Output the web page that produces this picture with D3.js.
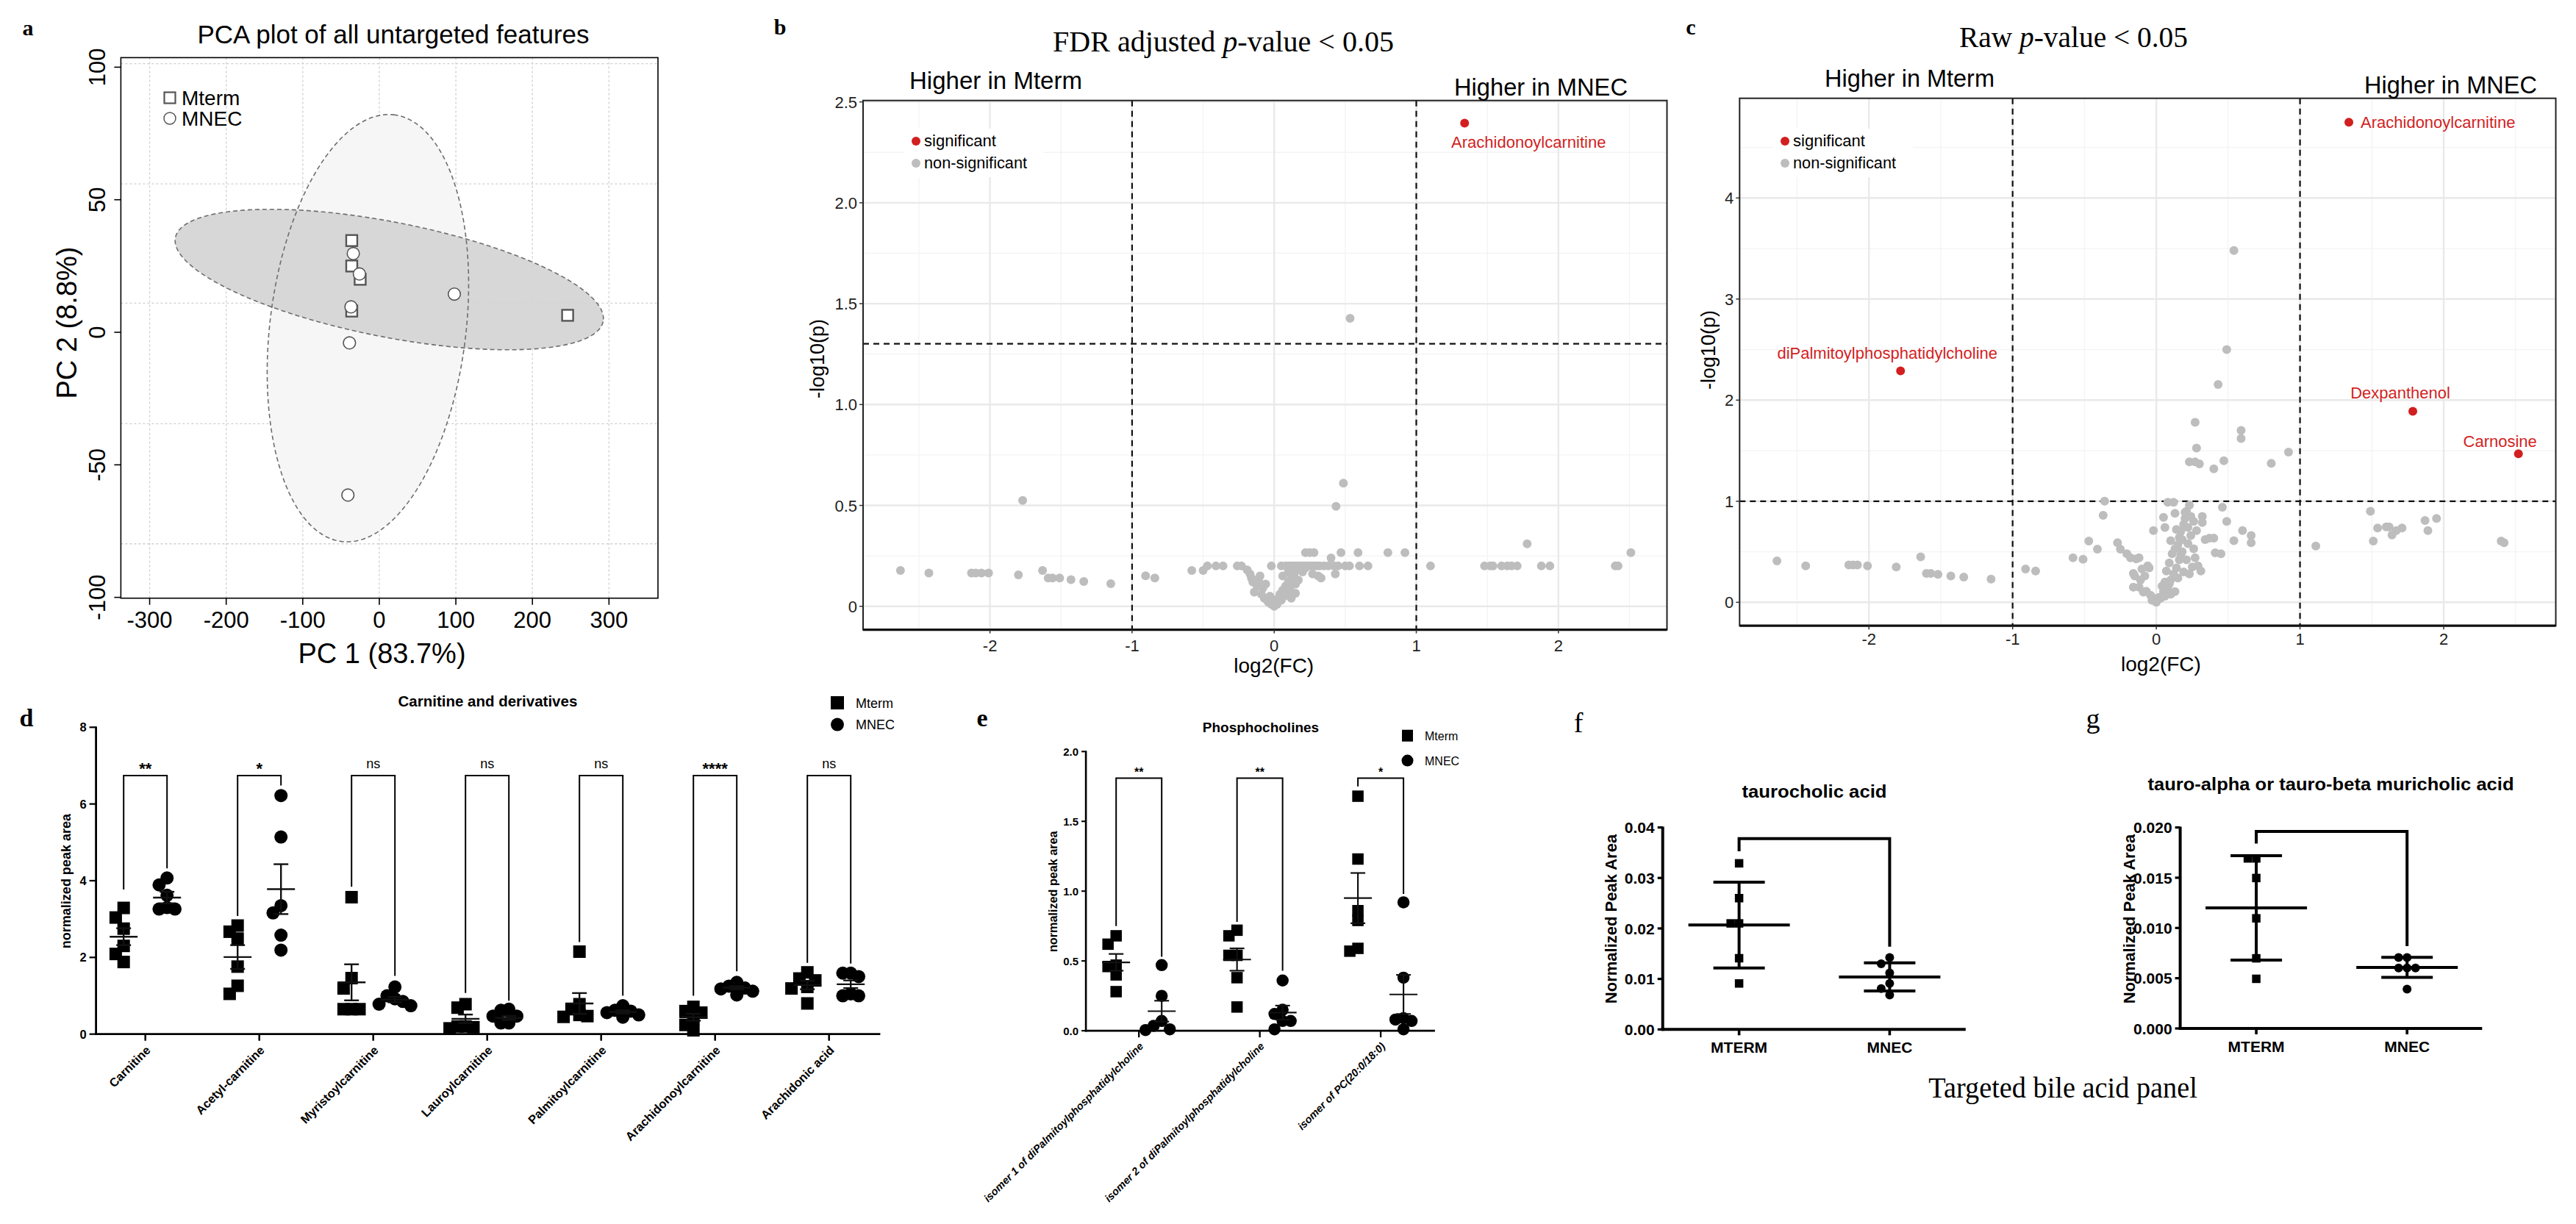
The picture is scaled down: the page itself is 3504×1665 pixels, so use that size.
<!DOCTYPE html>
<html><head><meta charset="utf-8">
<script src="https://cdn.jsdelivr.net/npm/d3@7/dist/d3.min.js"></script>
<style>html,body{margin:0;padding:0;background:#fff}svg{display:block}</style>
</head><body>
<svg id="fig" width="3504" height="1665" xmlns="http://www.w3.org/2000/svg"></svg>
<script>
// ================= DATA =================
// Panel a: PCA
const pcaMterm = [[-36,34.6],[-36,25],[-25,20],[-36,8],[246,6.4]];
const pcaMNEC  = [[-34,29.7],[-26,22],[-37,9.6],[98,14.4],[-39,-4],[-41,-61.4]];
// ellipse: centre x, centre y, semi-diameter u (x,y), semi-diameter v (x,y) in data units
const pcaEllMterm = [13,19.9,279.3,-15.9,-15.6,-21.2];
const pcaEllMNEC  = [-14.9,1.55,33.7,80.5,127.2,-4.15];
const pcaXTicks = [-300,-200,-100,0,100,200,300];
const pcaYTicks = [-100,-50,0,50,100];
const pcaGridY  = [101.3,56,11,-34.5,-79.8];

// Panel b: volcano, FDR adjusted
const fdrNonSig = [[-2.63,0.178],[-2.43,0.165],[-2.13,0.165],[-2.10,0.165],[-2.06,0.165],[-2.01,0.165],[-1.80,0.156],[-1.77,0.525],[-1.63,0.178],[-1.59,0.14],[-1.56,0.14],[-1.51,0.14],[-1.43,0.132],[-1.34,0.123],[-1.15,0.112],[-0.905,0.151],[-0.84,0.14],[-0.58,0.178],[-0.50,0.178],[-0.47,0.2],[-0.41,0.2],[-0.36,0.2],[-0.26,0.2],[-0.23,0.2],
 [-0.19,0.18],[-0.17,0.16],[-0.16,0.14],[-0.15,0.12],[-0.14,0.07],[-0.12,0.1],[-0.11,0.13],[-0.10,0.15],[-0.09,0.06],[-0.08,0.09],[-0.07,0.04],[-0.06,0.11],[-0.05,0.03],[-0.04,0.02],[-0.03,0.05],[-0.02,0.01],[0,0],[0.01,0.03],[0.02,0.01],[0.03,0.04],[0.04,0.06],[0.05,0.03],[0.06,0.08],[0.07,0.05],[0.08,0.1],[0.09,0.07],[0.1,0.12],[0.11,0.09],[0.12,0.14],[0.13,0.06],[0.14,0.16],[0.15,0.11],[0.16,0.18],[0.17,0.13],[0.06,0.15],[0.1,0.17],[0.13,0.19],[0.2,0.17],[0.22,0.19],[0.27,0.16],[0.31,0.15],[0.33,0.14],[0.15,0.065],[0.12,0.04],
 [-0.02,0.2],[0.05,0.2],[0.08,0.2],[0.1,0.2],[0.12,0.2],[0.14,0.2],[0.16,0.2],[0.18,0.2],[0.2,0.2],[0.22,0.2],[0.24,0.2],[0.26,0.2],[0.28,0.2],[0.3,0.2],[0.32,0.2],[0.35,0.2],[0.38,0.2],[0.42,0.2],[0.45,0.2],[0.5,0.2],[0.53,0.2],[0.6,0.2],[0.66,0.2],
 [0.22,0.266],[0.25,0.266],[0.28,0.266],[0.47,0.266],[0.59,0.266],[0.80,0.266],[0.92,0.266],[0.40,0.24],[0.435,0.496],[0.487,0.61],[0.534,1.427],[0.43,0.16],
 [1.10,0.2],[1.48,0.2],[1.52,0.2],[1.54,0.2],[1.60,0.2],[1.64,0.2],[1.67,0.2],[1.71,0.2],[1.78,0.31],[1.88,0.2],[1.94,0.2],[2.40,0.2],[2.42,0.2],[2.51,0.266]];
const fdrSig = [[1.34,2.395]];
const fdrSigNames = ["Arachidonoylcarnitine"];

// Panel c: volcano, raw p
const rawNonSig = [[-2.64,0.41],[-2.44,0.36],[-2.14,0.37],[-2.11,0.37],[-2.08,0.37],[-2.01,0.36],[-1.81,0.35],[-1.64,0.45],[-1.60,0.285],[-1.57,0.285],[-1.52,0.276],[-1.43,0.26],[-1.34,0.25],[-1.15,0.23],[-0.91,0.33],[-0.84,0.31],[-0.58,0.44],[-0.51,0.425],[-0.47,0.605],[-0.41,0.525],[-0.37,0.86],[-0.36,1.0],[-0.27,0.59],[-0.25,0.525],[-0.205,0.48],[-0.18,0.44],[-0.14,0.43],[-0.12,0.44],[-0.16,0.285],[-0.15,0.26],[-0.06,0.36],[-0.05,0.34],[-0.10,0.33],[-0.08,0.26],[-0.11,0.22],[-0.16,0.15],[-0.07,0.11],[-0.04,0.07],[-0.03,0.02],[0,0],[0.03,0.04],[0.05,0.11],[0.06,0.2],[0.07,0.31],[0.09,0.39],[0.11,0.48],[0.13,0.53],[0.15,0.57],[0.16,0.64],[0.17,0.70],[0.19,0.77],[0.20,0.83],[0.21,0.90],[0.23,0.96],[0.08,0.99],[0.12,0.99],[0.05,0.84],[-0.02,0.71],[0.06,0.74],[0.10,0.61],[0.13,0.88],[0.20,0.89],[0.24,0.85],[0.28,0.71],[0.32,0.85],[0.32,0.79],[0.26,0.53],[0.25,0.35],[0.29,0.36],[0.31,0.31],[0.15,0.24],[0.19,0.30],[0.13,0.105],[0.34,0.62],[0.37,0.635],[0.40,0.635],[0.41,0.49],[0.45,0.48],[0.46,0.94],[0.49,0.80],[0.54,0.61],[0.60,0.71],[0.66,0.66],[0.66,0.59],[1.11,0.556],
 [-0.12,0.15],[-0.09,0.10],[-0.02,0.04],[0.02,0.05],[0.04,0.16],[0.08,0.13],[0.10,0.22],[0.12,0.28],[0.14,0.34],[0.16,0.42],[0.18,0.50],[0.22,0.58],[0.24,0.66],[0.18,0.62],[0.14,0.72],[0.22,0.74],[0.26,0.80],[0.10,0.08],[0.06,0.06],[0.17,0.47],[0.21,0.42],[0.23,0.28],[0.27,0.44],[0.09,0.18],
 [0.54,3.48],[0.49,2.50],[0.43,2.155],[0.27,1.78],[0.59,1.70],[0.59,1.62],[0.28,1.525],[0.23,1.39],[0.27,1.39],[0.30,1.37],[0.40,1.32],[0.47,1.40],[0.80,1.375],[0.92,1.485],
 [1.49,0.90],[1.51,0.605],[1.54,0.735],[1.60,0.745],[1.62,0.745],[1.64,0.665],[1.67,0.71],[1.71,0.735],[1.87,0.81],[1.89,0.71],[1.95,0.83],[2.40,0.605],[2.42,0.59]];
const rawSig = [[1.34,4.75],[-1.78,2.29],[1.785,1.89],[2.52,1.47]];
const rawSigNames = ["Arachidonoylcarnitine","diPalmitoylphosphatidylcholine","Dexpanthenol","Carnosine"];

// Panel d: carnitine and derivatives
const dCats = ["Carnitine","Acetyl-carnitine","Myristoylcarnitine","Lauroylcarnitine","Palmitoylcarnitine","Arachidonoylcarnitine","Arachidonic acid"];
const dMterm = [[3.29,3.04,2.75,2.30,2.09,1.88],[2.83,2.67,2.49,1.76,1.26,1.05],[3.57,1.46,1.19,0.65,0.65,0.65],[0.78,0.69,0.20,0.18,0.15,0.20],[2.15,0.78,0.65,0.50,0.47,0.45],[0.71,0.60,0.56,0.41,0.24,0.10],[1.61,1.45,1.40,1.23,1.19,0.80]];
const dMNEC  = [[4.07,3.89,3.62,3.30,3.26,3.26],[6.22,5.14,3.35,3.16,2.58,2.19],[1.23,1.00,0.92,0.85,0.78,0.74],[0.65,0.62,0.47,0.47,0.29,0.29],[0.74,0.62,0.60,0.56,0.50,0.44],[1.35,1.25,1.20,1.18,1.12,1.02],[1.59,1.59,1.50,1.05,1.00,1.00]];
const dMtermMean = [2.54,2.01,1.35,0.40,0.80,0.44,1.28];
const dMtermSEM  = [0.22,0.31,0.47,0.11,0.27,0.09,0.11];
const dMNECMean  = [3.56,3.78,0.90,0.42,0.58,1.21,1.30];
const dMNECSEM   = [0.15,0.65,0.07,0.05,0.04,0.04,0.10];
const dSig = ["**","*","ns","ns","ns","****","ns"];
const dBracketTop = 6.74;
const dBracketFeet = [[3.77,4.32],[3.08,6.48],[3.84,1.52],[1.07,0.87],[2.4,1.0],[1.0,1.64],[1.86,1.84]];
const dYTicks = [0,2,4,6,8];

// Panel e: phosphocholines
const eCats = ["isomer 1 of diPalmitoylphosphatidylcholine","isomer 2 of diPalmitoylphosphatidylcholine","isomer of PC(20:0/18:0)"];
const eMterm = [[0.68,0.62,0.47,0.46,0.40,0.28],[0.72,0.68,0.54,0.54,0.38,0.17],[1.68,1.23,0.86,0.79,0.59,0.57]];
const eMNEC  = [[0.47,0.25,0.07,0.035,0.01,0.005],[0.36,0.15,0.12,0.07,0.07,0.01],[0.92,0.38,0.09,0.08,0.07,0.01]];
const eMtermMean = [0.49,0.51,0.95];
const eMtermSEM  = [0.06,0.08,0.18];
const eMNECMean  = [0.14,0.13,0.26];
const eMNECSEM   = [0.075,0.05,0.14];
const eSig = ["**","**","*"];
const eBracketTop = 1.81;
const eBracketFeet = [[0.75,0.53],[0.78,0.43],[1.75,0.98]];
const eYTicks = [0,0.5,1.0,1.5,2.0];

// Panel f: taurocholic acid
const fCats = ["MTERM","MNEC"];
const fValues = [[0.0329,0.0260,0.0210,0.0210,0.0141,0.0091],[0.01424,0.0130,0.0112,0.0091,0.0081,0.0068]];
const fMean = [0.02067,0.0104];
const fSD = [0.0085,0.0028];
const fBracket = [0.0378,0.0353,0.0164];
const fYTicks = [0,0.01,0.02,0.03,0.04];

// Panel g: tauro-alpha/beta muricholic acid
const gCats = ["MTERM","MNEC"];
const gValues = [[0.01692,0.01692,0.01497,0.01096,0.00698,0.00494],[0.00706,0.00706,0.00602,0.00602,0.00602,0.00392]];
const gMean = [0.0120,0.00608];
const gSD = [0.0052,0.0010];
const gBracket = [0.0196,0.0184,0.0082];
const gYTicks = [0,0.005,0.010,0.015,0.020];

// ================= DRAWING =================
const svg = d3.select('#fig');
const SANS = "'Liberation Sans', Arial, Helvetica, sans-serif";
const SERIF = "'Liberation Serif', 'Times New Roman', Times, serif";
svg.append('rect').attr('width',3504).attr('height',1665).attr('fill','#fff');

function text(g, x, y, s, o = {}) {
  const t = g.append('text').attr('x', x).attr('y', y).text(s)
    .attr('font-family', o.ff || SANS).attr('font-size', o.fs || 20)
    .attr('text-anchor', o.anchor || 'start').attr('fill', o.fill || '#000');
  if (o.fw) t.attr('font-weight', o.fw);
  if (o.style) t.attr('font-style', o.style);
  if (o.rot !== undefined) t.attr('x', null).attr('y', null).attr('transform', `translate(${x},${y}) rotate(${o.rot})`);
  if (o.len) t.attr('textLength', o.len).attr('lengthAdjust', 'spacingAndGlyphs');
  return t;
}

// panel letters
text(svg, 38, 48, 'a', {ff: SERIF, fs: 30, fw: 'bold', anchor: 'middle'});
text(svg, 1061, 47, 'b', {ff: SERIF, fs: 30, fw: 'bold', anchor: 'middle'});
text(svg, 2300, 47, 'c', {ff: SERIF, fs: 30, fw: 'bold', anchor: 'middle'});
text(svg, 36, 988, 'd', {ff: SERIF, fs: 34, fw: 'bold', anchor: 'middle'});
text(svg, 1336, 988, 'e', {ff: SERIF, fs: 34, fw: 'bold', anchor: 'middle'});
text(svg, 2147, 996, 'f', {ff: SERIF, fs: 38, anchor: 'middle'});
text(svg, 2847, 990, 'g', {ff: SERIF, fs: 38, anchor: 'middle'});

// ---------- Panel a ----------
(function(){
  const g = svg.append('g');
  const L = 164.4, R = 895, T = 78.4, B = 813.7;
  const x = d3.scaleLinear().domain([-337.6, 364]).range([L, R]);
  const y = d3.scaleLinear().domain([-100.3, 103.6]).range([B, T]);
  text(g, 535, 59, 'PCA plot of all untargeted features', {fs: 35, anchor: 'middle'});
  pcaXTicks.forEach(v => g.append('line').attr('x1', x(v)).attr('x2', x(v)).attr('y1', T).attr('y2', B)
    .attr('stroke', '#cfcfcf').attr('stroke-width', 1.3).attr('stroke-dasharray', '3,3'));
  pcaGridY.forEach(v => g.append('line').attr('x1', L).attr('x2', R).attr('y1', y(v)).attr('y2', y(v))
    .attr('stroke', '#cfcfcf').attr('stroke-width', 1.3).attr('stroke-dasharray', '3,3'));
  const ts = d3.range(0, 2 * Math.PI + 0.001, Math.PI / 90);
  function ell(e){
    return d3.line().x(t => x(e[0] + e[2] * Math.cos(t) + e[4] * Math.sin(t)))
                    .y(t => y(e[1] + e[3] * Math.cos(t) + e[5] * Math.sin(t)))(ts) + 'Z';
  }
  g.append('path').attr('d', ell(pcaEllMNEC)).attr('fill', '#f6f6f6');
  g.append('path').attr('d', ell(pcaEllMterm)).attr('fill', '#d4d4d4').attr('fill-opacity', 0.92);
  [pcaEllMNEC, pcaEllMterm].forEach(e => g.append('path').attr('d', ell(e)).attr('fill', 'none')
    .attr('stroke', '#6e6e6e').attr('stroke-width', 1.6).attr('stroke-dasharray', '6,4'));
  const sq = 15;
  g.selectAll('.pm').data(pcaMterm).join('rect')
    .attr('x', d => x(d[0]) - sq / 2).attr('y', d => y(d[1]) - sq / 2).attr('width', sq).attr('height', sq)
    .attr('fill', '#fff').attr('stroke', '#555').attr('stroke-width', 2.4);
  g.selectAll('.pn').data(pcaMNEC).join('circle')
    .attr('cx', d => x(d[0])).attr('cy', d => y(d[1])).attr('r', 8.3)
    .attr('fill', '#fff').attr('stroke', '#555').attr('stroke-width', 1.6);
  g.append('rect').attr('x', L).attr('y', T).attr('width', R - L).attr('height', B - T)
    .attr('fill', 'none').attr('stroke', '#000').attr('stroke-width', 1.6);
  pcaXTicks.forEach(v => {
    g.append('line').attr('x1', x(v)).attr('x2', x(v)).attr('y1', B).attr('y2', B + 9).attr('stroke', '#000').attr('stroke-width', 1.6);
    text(g, x(v), 854, String(v), {fs: 31, anchor: 'middle'});
  });
  pcaYTicks.forEach(v => {
    g.append('line').attr('x1', L).attr('x2', L - 9).attr('y1', y(v)).attr('y2', y(v)).attr('stroke', '#000').attr('stroke-width', 1.6);
    text(g, 143, y(v), String(v), {fs: 31, anchor: 'middle', rot: -90});
  });
  text(g, 519.5, 902, 'PC 1 (83.7%)', {fs: 38, anchor: 'middle'});
  text(g, 104, 439, 'PC 2 (8.8%)', {fs: 38, anchor: 'middle', rot: -90});
  g.append('rect').attr('x', 231 - 7.5).attr('y', 133 - 7.5).attr('width', 15).attr('height', 15)
    .attr('fill', '#fff').attr('stroke', '#555').attr('stroke-width', 2.2);
  text(g, 247, 143, 'Mterm', {fs: 28});
  g.append('circle').attr('cx', 231).attr('cy', 161).attr('r', 8).attr('fill', '#fff').attr('stroke', '#555').attr('stroke-width', 1.5);
  text(g, 247, 171, 'MNEC', {fs: 28});
})();

// ---------- Volcano panels ----------
function volcano(o){
  const g = svg.append('g');
  const x = d3.scaleLinear().domain(o.xd).range([o.L, o.R]);
  const y = d3.scaleLinear().domain(o.yd).range([o.B, o.T]);
  const hl = (v, c, w) => g.append('line').attr('x1', o.L).attr('x2', o.R).attr('y1', y(v)).attr('y2', y(v)).attr('stroke', c).attr('stroke-width', w);
  const vl = (v, c, w) => g.append('line').attr('x1', x(v)).attr('x2', x(v)).attr('y1', o.T).attr('y2', o.B).attr('stroke', c).attr('stroke-width', w);
  o.xMinor.forEach(v => vl(v, '#f3f3f3', 1.3));
  o.yMinor.forEach(v => hl(v, '#f3f3f3', 1.3));
  o.xMajor.forEach(v => vl(v, '#e9e9e9', 2.4));
  o.yMajor.forEach(v => hl(v, '#e9e9e9', 2.4));
  g.append('rect').attr('x', o.legX - 16).attr('y', o.legY - 17).attr('width', 190).attr('height', 66).attr('fill', '#fff');
  g.append('circle').attr('cx', o.legX).attr('cy', o.legY).attr('r', 6).attr('fill', '#d21f1f');
  text(g, o.legX + 11, o.legY + 7, 'significant', {fs: 22, len: 98});
  g.append('circle').attr('cx', o.legX).attr('cy', o.legY + 30).attr('r', 6).attr('fill', '#bdbdbd');
  text(g, o.legX + 11, o.legY + 37, 'non-significant', {fs: 22, len: 140});
  [-1, 1].forEach(v => g.append('line').attr('x1', x(v)).attr('x2', x(v)).attr('y1', o.T).attr('y2', o.B)
    .attr('stroke', '#111').attr('stroke-width', 2.2).attr('stroke-dasharray', '8,6'));
  g.append('line').attr('x1', o.L).attr('x2', o.R).attr('y1', y(o.thr)).attr('y2', y(o.thr))
    .attr('stroke', '#111').attr('stroke-width', 2.2).attr('stroke-dasharray', '8,6');
  g.selectAll('.ns').data(o.ns).join('circle').attr('cx', d => x(d[0])).attr('cy', d => y(d[1])).attr('r', 6).attr('fill', '#bdbdbd');
  g.selectAll('.sg').data(o.sig).join('circle').attr('cx', d => x(d[0])).attr('cy', d => y(d[1])).attr('r', 6).attr('fill', '#d21f1f');
  o.sig.forEach((d, i) => {
    const p = o.labPos[i];
    text(g, x(d[0]) + p[0], y(d[1]) + p[1], o.names[i], {fs: 22, fill: '#d21f1f', anchor: p[2]});
  });
  g.append('rect').attr('x', o.L).attr('y', o.T).attr('width', o.R - o.L).attr('height', o.B - o.T)
    .attr('fill', 'none').attr('stroke', '#222').attr('stroke-width', 2);
  g.append('line').attr('x1', o.L).attr('x2', o.R).attr('y1', o.B).attr('y2', o.B).attr('stroke', '#111').attr('stroke-width', 3.2);
  o.xMajor.forEach(v => {
    g.append('line').attr('x1', x(v)).attr('x2', x(v)).attr('y1', o.B).attr('y2', o.B + 5).attr('stroke', '#333').attr('stroke-width', 1.5);
    text(g, x(v), o.B + o.xLabOff, v < 0 ? '-' + Math.abs(v) : String(v), {fs: 22, anchor: 'middle', fill: '#222'});
  });
  o.yMajor.forEach(v => {
    g.append('line').attr('x1', o.L).attr('x2', o.L - 5).attr('y1', y(v)).attr('y2', y(v)).attr('stroke', '#333').attr('stroke-width', 1.5);
    text(g, o.L - 8, y(v) + 8, o.yFmt(v), {fs: 22, anchor: 'end', fill: '#222'});
  });
  text(g, o.ylabX, o.ylabY, '-log10(p)', {fs: 27, anchor: 'middle', rot: -90});
  text(g, (o.L + o.R) / 2 + o.xlabDx, o.xlabY, 'log2(FC)', {fs: 28, anchor: 'middle'});
  const tt = g.append('text').attr('x', o.titleX).attr('y', o.titleY).attr('font-family', SERIF).attr('font-size', 40)
    .attr('textLength', o.titleLen).attr('lengthAdjust', 'spacingAndGlyphs');
  o.title.forEach(s => { const ts = tt.append('tspan').text(s[0]); if (s[1]) ts.attr('font-style', 'italic'); });
  text(g, o.hmX, o.hmY, 'Higher in Mterm', {fs: 33, len: o.hmLen});
  text(g, o.hnX, o.hnY, 'Higher in MNEC', {fs: 33, len: o.hnLen});
}

volcano({
  L: 1174, R: 2267.5, T: 136.7, B: 856.6, xd: [-2.893, 2.764], yd: [-0.116, 2.507], thr: 1.30103,
  xMajor: [-2, -1, 0, 1, 2], xMinor: [-2.5, -1.5, -0.5, 0.5, 1.5, 2.5],
  yMajor: [0, 0.5, 1.0, 1.5, 2.0, 2.5], yMinor: [0.25, 0.75, 1.25, 1.75, 2.25],
  yFmt: v => v === 0 ? '0' : d3.format('.1f')(v),
  ns: fdrNonSig, sig: fdrSig, names: fdrSigNames, labPos: [[87, 34, 'middle']],
  legX: 1246, legY: 192, xLabOff: 29, ylabX: 1121, ylabY: 488, xlabY: 915, xlabDx: 12,
  title: [['FDR adjusted '], ['p', true], ['-value < 0.05']], titleX: 1432, titleY: 70, titleLen: 464,
  hmX: 1237, hmY: 121, hmLen: 235, hnX: 1978, hnY: 130, hnLen: 236
});
volcano({
  L: 2366.3, R: 3476.5, T: 133.7, B: 851.2, xd: [-2.90, 2.78], yd: [-0.232, 4.986], thr: 1,
  xMajor: [-2, -1, 0, 1, 2], xMinor: [-2.5, -1.5, -0.5, 0.5, 1.5, 2.5],
  yMajor: [0, 1, 2, 3, 4], yMinor: [0.5, 1.5, 2.5, 3.5, 4.5],
  yFmt: v => String(v),
  ns: rawNonSig, sig: rawSig, names: rawSigNames,
  labPos: [[16, 8, 'start'], [-18, -16, 'middle'], [-17, -17, 'middle'], [-25, -9, 'middle']],
  legX: 2428, legY: 192, xLabOff: 26, ylabX: 2333, ylabY: 476, xlabY: 913, xlabDx: 18,
  title: [['Raw  '], ['p', true], ['-value < 0.05']], titleX: 2665, titleY: 64, titleLen: 311,
  hmX: 2482, hmY: 118, hmLen: 231, hnX: 3216, hnY: 127, hnLen: 235
});

// ---------- Dot plots ----------
function swarm(vals, y, size, s){
  const order = vals.map((v, i) => i).sort((a, b) => vals[b] - vals[a]);
  const placed = []; const off = new Array(vals.length).fill(0);
  order.forEach(i => {
    const py = y(vals[i]);
    for (const k of [0, -1, 1, -2, 2, -3, 3]) {
      const px = k * s;
      if (!placed.some(p => Math.abs(p[0] - px) < s * 0.9 && Math.abs(p[1] - py) < size * 0.85)) { off[i] = px; placed.push([px, py]); break; }
    }
  });
  return off;
}

function dotPanel(o){
  const g = svg.append('g');
  const x = d3.scalePoint().domain(o.cats).range(o.xr);
  const y = d3.scaleLinear().domain(o.yd).range(o.yr);
  const y0 = y(0);
  g.append('line').attr('x1', o.axX).attr('x2', o.axX).attr('y1', y0 + o.lw / 2).attr('y2', y(o.yd[1]) - 1).attr('stroke', '#000').attr('stroke-width', o.lw);
  g.append('line').attr('x1', o.axX - o.lw / 2).attr('x2', o.axEnd).attr('y1', y0).attr('y2', y0).attr('stroke', '#000').attr('stroke-width', o.lw);
  o.yticks.forEach(v => {
    g.append('line').attr('x1', o.axX).attr('x2', o.axX - o.ytl).attr('y1', y(v)).attr('y2', y(v)).attr('stroke', '#000').attr('stroke-width', o.lw * 0.8);
    text(g, o.axX - o.ytl - o.ypad, y(v) + o.tfs * 0.36, o.yFmt(v), {fs: o.tfs, fw: 'bold', anchor: 'end'});
  });
  o.cats.forEach((c) => {
    g.append('line').attr('x1', x(c)).attr('x2', x(c)).attr('y1', y0).attr('y2', y0 + o.xtl).attr('stroke', '#000').attr('stroke-width', o.lw * 0.9);
    if (o.rotLab) text(g, x(c) + o.labDx, y0 + o.labDy, c, {fs: o.lfs, fw: 'bold', style: o.labStyle, anchor: 'end', rot: -45});
    else text(g, x(c), y0 + o.labDy, c, {fs: o.lfs, fw: 'bold', anchor: 'middle'});
  });
  if (o.feet) {
    o.cats.forEach((c, i) => {
      const f = o.feet[i], xl = x(c) - o.off, xr = x(c) + o.off, yt = y(o.btop);
      g.append('path').attr('d', `M${xl},${y(f[0])}V${yt}H${xr}V${y(f[1])}`).attr('fill', 'none').attr('stroke', '#000').attr('stroke-width', o.blw);
      const s = o.sig[i], isNs = s === 'ns';
      text(g, x(c), yt - (isNs ? o.nsUp : o.starUp), s, {fs: isNs ? o.nsfs : o.starfs, fw: isNs ? null : 'bold', anchor: 'middle'});
    });
  }
  o.groups.forEach((grp, gi) => {
    grp.vals.forEach((vals, i) => {
      const cx = x(o.cats[i]) + (gi === 0 ? -o.off : o.off);
      const offs = swarm(vals, y, o.size, o.spread);
      vals.forEach((v, j) => {
        if (gi === 0) g.append('rect').attr('x', cx + offs[j] - o.size / 2).attr('y', y(v) - o.size / 2).attr('width', o.size).attr('height', o.size).attr('fill', '#000');
        else g.append('circle').attr('cx', cx + offs[j]).attr('cy', y(v)).attr('r', o.size / 2 + 0.5).attr('fill', '#000');
      });
      const m = grp.mean[i], e = grp.err[i];
      g.append('line').attr('x1', cx - o.mw).attr('x2', cx + o.mw).attr('y1', y(m)).attr('y2', y(m)).attr('stroke', o.ecol).attr('stroke-width', o.elw);
      g.append('line').attr('x1', cx).attr('x2', cx).attr('y1', y(m - e)).attr('y2', y(m + e)).attr('stroke', o.ecol).attr('stroke-width', o.elw);
      [m - e, m + e].forEach(v => g.append('line').attr('x1', cx - o.cw).attr('x2', cx + o.cw).attr('y1', y(v)).attr('y2', y(v)).attr('stroke', o.ecol).attr('stroke-width', o.elw));
    });
  });
  return {g, x, y};
}

// Panel d
(function(){
  const p = dotPanel({
    cats: dCats, xr: [197.7, 1127.7], yd: [0, 8], yr: [1406.7, 989.3], axX: 130.6, axEnd: 1197.4, lw: 2.8,
    yticks: dYTicks, yFmt: d3.format('d'), ytl: 9, ypad: 4, tfs: 16.5, xtl: 9,
    rotLab: true, labDx: 8, labDy: 23, lfs: 16.5,
    feet: dBracketFeet, btop: dBracketTop, blw: 2, off: 29.5,
    sig: dSig, nsUp: 10, starUp: 2, nsfs: 18, starfs: 22,
    groups: [{vals: dMterm, mean: dMtermMean, err: dMtermSEM}, {vals: dMNEC, mean: dMNECMean, err: dMNECSEM}],
    size: 17, spread: 10.8, mw: 19, cw: 10, elw: 2.4, ecol: '#111'
  });
  text(p.g, 663.4, 960.6, 'Carnitine and derivatives', {fs: 20.5, fw: 'bold', anchor: 'middle'});
  text(p.g, 96, 1198.6, 'normalized peak area', {fs: 18, fw: 'bold', anchor: 'middle', rot: -90});
  p.g.append('rect').attr('x', 1139 - 9).attr('y', 956 - 9).attr('width', 18).attr('height', 18).attr('fill', '#000');
  text(p.g, 1164, 962.5, 'Mterm', {fs: 18});
  p.g.append('circle').attr('cx', 1139).attr('cy', 985.6).attr('r', 9).attr('fill', '#000');
  text(p.g, 1164, 992, 'MNEC', {fs: 18});
})();

// Panel e
(function(){
  const p = dotPanel({
    cats: eCats, xr: [1549.2, 1878.1], yd: [0, 2], yr: [1402.1, 1022.3], axX: 1477.1, axEnd: 1951.9, lw: 2.6,
    yticks: eYTicks, yFmt: d3.format('.1f'), ytl: 6, ypad: 4, tfs: 15, xtl: 9,
    rotLab: true, labDx: 7, labDy: 22, lfs: 14.5, labStyle: 'italic',
    feet: eBracketFeet, btop: eBracketTop, blw: 2, off: 31,
    sig: eSig, nsUp: 8, starUp: 2, nsfs: 15, starfs: 16,
    groups: [{vals: eMterm, mean: eMtermMean, err: eMtermSEM}, {vals: eMNEC, mean: eMNECMean, err: eMNECSEM}],
    size: 15.5, spread: 11, mw: 19, cw: 10, elw: 2.2, ecol: '#111'
  });
  text(p.g, 1715, 996, 'Phosphocholines', {fs: 19, fw: 'bold', anchor: 'middle'});
  text(p.g, 1438, 1212.7, 'normalized peak area', {fs: 16.2, fw: 'bold', anchor: 'middle', rot: -90});
  p.g.append('rect').attr('x', 1914.5 - 7.5).attr('y', 1000.7 - 8).attr('width', 15).attr('height', 16).attr('fill', '#000');
  text(p.g, 1938, 1006.5, 'Mterm', {fs: 16});
  p.g.append('circle').attr('cx', 1914.5).attr('cy', 1034.6).attr('r', 8).attr('fill', '#000');
  text(p.g, 1938, 1040.5, 'MNEC', {fs: 16});
})();

// Panels f, g
function bilePanel(cats, vals, mean, sd, br, ticks, fmt, geo){
  const p = dotPanel({
    cats: cats, xr: geo.xr, yd: [0, ticks[ticks.length - 1]], yr: geo.yr, axX: geo.axX, axEnd: geo.axEnd, lw: 4,
    yticks: ticks, yFmt: d3.format(fmt), ytl: 7, ypad: 4, tfs: 21, xtl: 8,
    rotLab: false, labDy: 32, lfs: 21, groups: []
  });
  p.g.append('path').attr('d', `M${p.x(cats[0])},${p.y(br[1])}V${p.y(br[0])}H${p.x(cats[1])}V${p.y(br[2])}`)
    .attr('fill', 'none').attr('stroke', '#000').attr('stroke-width', 4);
  vals.forEach((vs, gi) => {
    const cx = p.x(cats[gi]);
    const offs = swarm(vs, p.y, 11.5, 11.5);
    vs.forEach((v, j) => {
      if (gi === 0) p.g.append('rect').attr('x', cx + offs[j] - 5.75).attr('y', p.y(v) - 5.75).attr('width', 11.5).attr('height', 11.5).attr('fill', '#000');
      else p.g.append('circle').attr('cx', cx + offs[j]).attr('cy', p.y(v)).attr('r', 6).attr('fill', '#000');
    });
    const m = mean[gi], e = sd[gi];
    p.g.append('line').attr('x1', cx - 69).attr('x2', cx + 69).attr('y1', p.y(m)).attr('y2', p.y(m)).attr('stroke', '#000').attr('stroke-width', 4);
    p.g.append('line').attr('x1', cx).attr('x2', cx).attr('y1', p.y(m - e)).attr('y2', p.y(m + e)).attr('stroke', '#000').attr('stroke-width', 4);
    [m - e, m + e].forEach(v => p.g.append('line').attr('x1', cx - 35).attr('x2', cx + 35).attr('y1', p.y(v)).attr('y2', p.y(v)).attr('stroke', '#000').attr('stroke-width', 4));
  });
  return p;
}
(function(){
  const p = bilePanel(fCats, fValues, fMean, fSD, fBracket, fYTicks, '.2f',
    {xr: [2365.6, 2570.4], yr: [1400.3, 1125.6], axX: 2261.7, axEnd: 2673.8});
  text(p.g, 2468, 1085, 'taurocholic acid', {fs: 24, fw: 'bold', anchor: 'middle', len: 197});
  text(p.g, 2199, 1250, 'Normalized Peak Area', {fs: 22, fw: 'bold', anchor: 'middle', rot: -90});
})();
(function(){
  const p = bilePanel(gCats, gValues, gMean, gSD, gBracket, gYTicks, '.3f',
    {xr: [3069.1, 3274.2], yr: [1399, 1125.6], axX: 2965.6, axEnd: 3376.3});
  text(p.g, 3170.5, 1075, 'tauro-alpha or tauro-beta muricholic acid', {fs: 24, fw: 'bold', anchor: 'middle', len: 498});
  text(p.g, 2904, 1250, 'Normalized Peak Area', {fs: 22, fw: 'bold', anchor: 'middle', rot: -90});
})();
text(svg, 2623.3, 1492.5, 'Targeted bile acid panel', {ff: SERIF, fs: 39, len: 365.5});
</script>
</body></html>
